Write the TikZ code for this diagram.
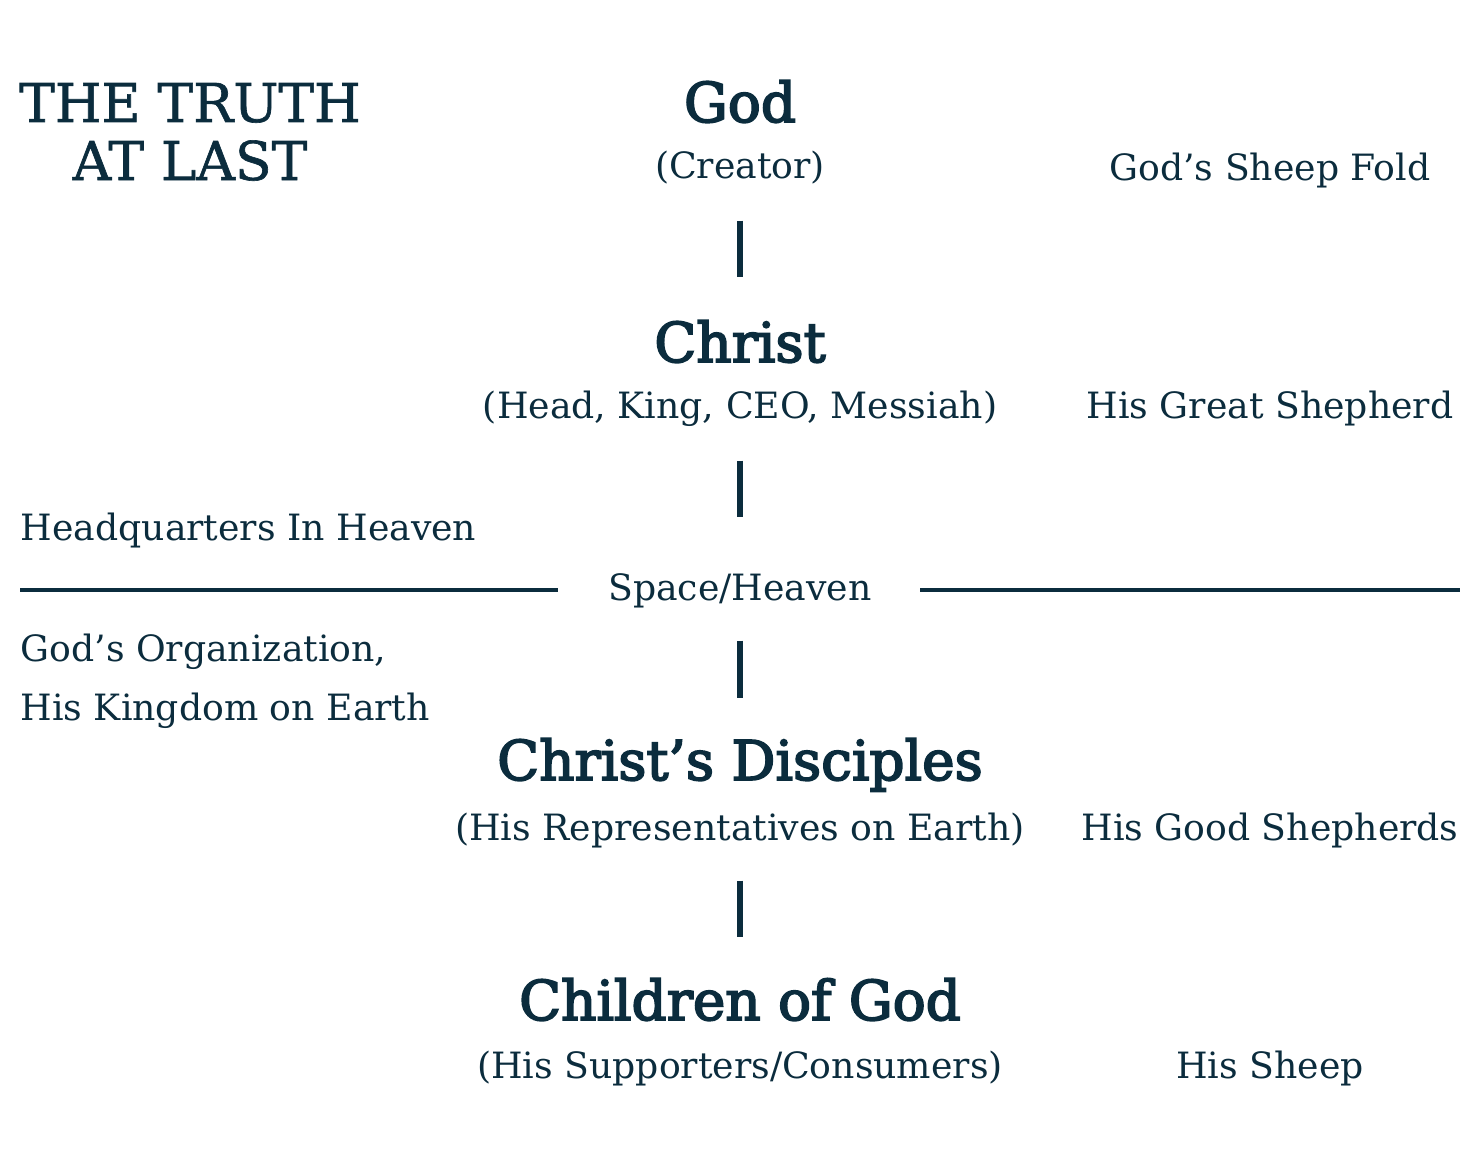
\documentclass[tikz,border=0pt]{standalone}
\usepackage{fontspec}
\setmainfont{DejaVu Serif}
\newfontfamily\headfont{DejaVu Serif}[FakeBold=3.2]
\newfontfamily\titlefont{DejaVu Serif}[FakeBold=1.2]
\usetikzlibrary{positioning}
\definecolor{navy}{HTML}{0B2C3D}

\begin{document}
\begin{tikzpicture}[x=0.01cm,y=-0.01cm,color=navy,
	head/.style={font=\headfont\fontsize{15.6}{19}\selectfont,anchor=base,
		inner sep=0pt,text height=0.44cm,text depth=0pt},
	title/.style={font=\titlefont\fontsize{15.2}{19}\selectfont,anchor=base,inner sep=0pt},
	small/.style={font=\fontsize{10.3}{13}\selectfont,anchor=base,
		inner sep=0pt,text height=0.3cm,text depth=0pt},
	bar/.style={line width=1.8pt},
	rule/.style={line width=1.4pt}]

\useasboundingbox (0,0) rectangle (1480,1170);

% title
\node[title] (truth) at (190,122) {THE TRUTH};
\node[title] (last) at (190,180) {AT LAST};

% centre column
\node[head] (god) at (740,122) {God};
\node[small] (godsub) at (740,178) {(Creator)};
\node[head] (christ) at (740,362) {Christ};
\node[small] (christsub) at (740,418) {(Head, King, CEO, Messiah)};
\node[small] (space) at (740,600) {Space/Heaven};
\node[head] (disciples) at (740,780) {Christ’s Disciples};
\node[small] (disciplessub) at (740,840) {(His Representatives on Earth)};
\node[head] (children) at (740,1020) {Children of God};
\node[small] (childrensub) at (740,1078) {(His Supporters/Consumers)};

% left column
\node[small,anchor=base west] (hq) at (20,540) {Headquarters In Heaven};
\node[small,anchor=base west] (org) at (20,661) {God’s Organization,};
\node[small,anchor=base west] (kingdom) at (20,720) {His Kingdom on Earth};

% right column
\node[small] (fold) at (1270,180) {God’s Sheep Fold};
\node[small] (great) at (1270,418) {His Great Shepherd};
\node[small] (good) at (1270,840) {His Good Shepherds};
\node[small] (sheep) at (1270,1078) {His Sheep};

% bars
\draw[bar,shorten <=0.42cm,shorten >=0.40cm] (godsub.south) -- (christ.north);
\draw[bar,shorten <=0.42cm,shorten >=0.52cm] (christsub.south) -- (space.north);
\draw[bar,shorten <=0.40cm,shorten >=0.37cm] (space.south) -- (disciples.north);
\draw[bar,shorten <=0.40cm,shorten >=0.38cm] (disciplessub.south) -- (children.north);

% heaven line
\coordinate (l1) at (20,590);
\coordinate (l2) at (558,590);
\coordinate (r1) at (920,590);
\coordinate (r2) at (1460,590);
\draw[rule] (l1) -- (l2);
\draw[rule] (r1) -- (r2);

\end{tikzpicture}
\end{document}
